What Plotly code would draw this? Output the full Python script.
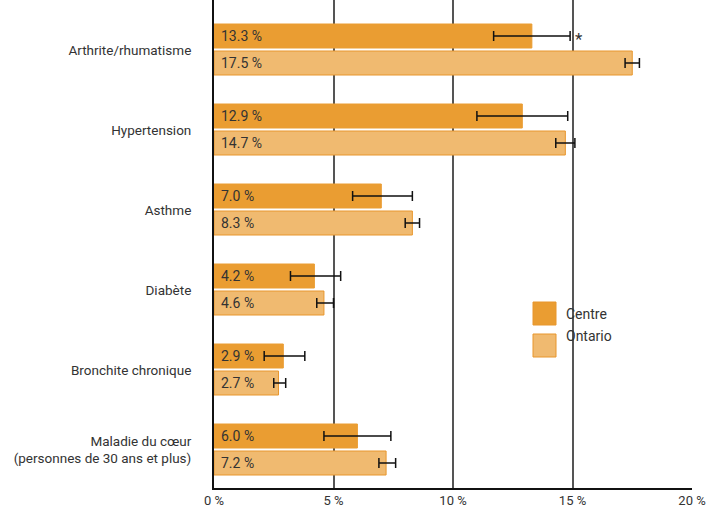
import plotly.graph_objects as go

categories = [
    "Arthrite/rhumatisme",
    "Hypertension",
    "Asthme",
    "Diabète",
    "Bronchite chronique",
    "Maladie du cœur<br>(personnes de 30 ans et plus)",
]
centre = [13.3, 12.9, 7.0, 4.2, 2.9, 6.0]
centre_low = [11.7, 11.0, 5.8, 3.2, 2.1, 4.6]
centre_high = [14.9, 14.8, 8.3, 5.3, 3.8, 7.4]
ontario = [17.5, 14.7, 8.3, 4.6, 2.7, 7.2]
ontario_low = [17.2, 14.3, 8.0, 4.3, 2.5, 6.9]
ontario_high = [17.8, 15.1, 8.6, 5.0, 3.0, 7.6]
significant = [True, False, False, False, False, False]
x_ticks = [0, 5, 10, 15, 20]

C_CENTRE = "#EA9D32"
C_ONTARIO = "#F0BA70"
C_EDGE = "#E8962C"
TXT = "#333333"
FONT = "Roboto"

pos = list(range(len(categories)))
bar_w = 0.30
off_c = -0.325
off_o = 0.0125

fig = go.Figure()
fig.add_trace(go.Bar(
    y=pos, x=centre, orientation="h", name="Centre",
    width=bar_w, offset=off_c,
    marker=dict(color=C_CENTRE, line=dict(color=C_CENTRE, width=1)),
    error_x=dict(type="data", symmetric=False,
                 array=[h - v for h, v in zip(centre_high, centre)],
                 arrayminus=[v - l for v, l in zip(centre, centre_low)],
                 color="#111111", thickness=1.5, width=5),
    showlegend=False,
))
fig.add_trace(go.Bar(
    y=pos, x=ontario, orientation="h", name="Ontario",
    width=bar_w, offset=off_o,
    marker=dict(color=C_ONTARIO, line=dict(color=C_EDGE, width=1)),
    error_x=dict(type="data", symmetric=False,
                 array=[h - v for h, v in zip(ontario_high, ontario)],
                 arrayminus=[v - l for v, l in zip(ontario, ontario_low)],
                 color="#111111", thickness=1.5, width=5),
    showlegend=False,
))

annotations = []
for i in pos:
    annotations.append(dict(x=0, y=i + off_c + bar_w / 2, xref="x", yref="y",
                            text=f"{centre[i]:.1f} %", showarrow=False,
                            xanchor="left", xshift=5,
                            font=dict(family=FONT, size=14, color=TXT)))
    annotations.append(dict(x=0, y=i + off_o + bar_w / 2, xref="x", yref="y",
                            text=f"{ontario[i]:.1f} %", showarrow=False,
                            xanchor="left", xshift=5,
                            font=dict(family=FONT, size=14, color=TXT)))
    if significant[i]:
        annotations.append(dict(x=centre_high[i], y=i + off_c + bar_w / 2,
                                xref="x", yref="y", text="*", showarrow=False,
                                xanchor="left", xshift=3, yshift=-3,
                                font=dict(family=FONT, size=17, color=TXT)))

# legend drawn as swatches with labels
shapes = []
for k, (lbl, col) in enumerate([("Centre", C_CENTRE), ("Ontario", C_ONTARIO)]):
    y0 = 1 - (302 + 32 * k) / 488
    y1 = 1 - (325 + 32 * k) / 488
    x0 = (533 - 214) / 478
    x1 = (556 - 214) / 478
    shapes.append(dict(type="rect", xref="paper", yref="paper",
                       x0=x0, x1=x1, y0=y1, y1=y0,
                       fillcolor=col, line=dict(color=C_EDGE, width=1)))
    annotations.append(dict(x=(564 - 214) / 478, y=(y0 + y1) / 2,
                            xref="paper", yref="paper", text=lbl,
                            showarrow=False, xanchor="left",
                            font=dict(family=FONT, size=14, color=TXT)))

fig.update_layout(
    width=710, height=510,
    margin=dict(l=214, r=18, t=0, b=22),
    plot_bgcolor="white", paper_bgcolor="white",
    barmode="overlay",
    font=dict(family=FONT, size=13, color=TXT),
    annotations=annotations,
    shapes=shapes,
    xaxis=dict(range=[0, 20], tickvals=x_ticks,
               ticktext=[f"{t} %" for t in x_ticks],
               showgrid=True, gridcolor="#555555", gridwidth=1.5,
               showline=True, linecolor="#111111", linewidth=1.5,
               zeroline=False, ticks="", ticklabelstandoff=0,
               tickfont=dict(family=FONT, size=13, color=TXT),
               automargin=False, fixedrange=True),
    yaxis=dict(range=[5.475, -0.625], tickvals=pos, ticktext=categories,
               showgrid=False, zeroline=False,
               showline=True, linecolor="#111111", linewidth=2,
               ticks="", ticklabelstandoff=18,
               tickfont=dict(family=FONT, size=13.5, color=TXT),
               automargin=False, fixedrange=True),
)

fig.write_html("out.html")
